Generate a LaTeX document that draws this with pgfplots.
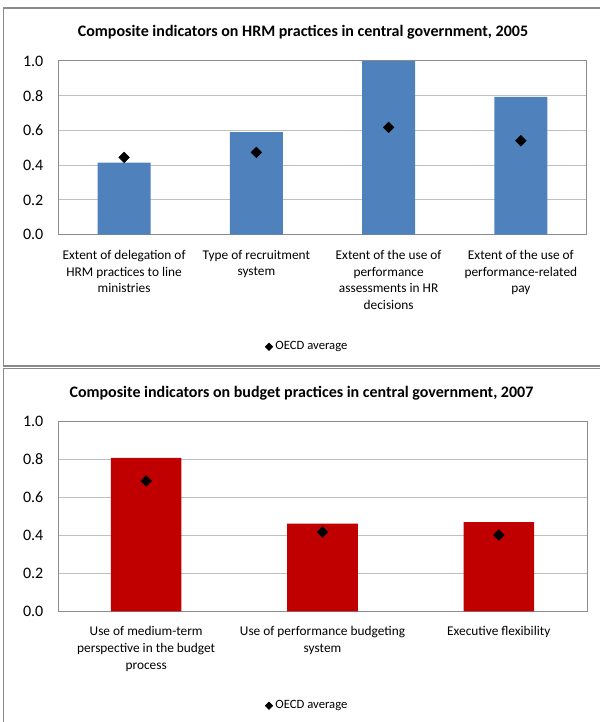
\documentclass[border=0pt]{standalone}
\usepackage{fontspec}
\setmainfont{Carlito}
\usepackage{pgfplots}
\pgfplotsset{compat=1.18}

\definecolor{hrmblue}{HTML}{4F81BD}
\definecolor{budgetred}{HTML}{C00000}
\definecolor{gridgrey}{HTML}{BFBFBF}
\definecolor{framegrey}{HTML}{8C8C8C}
\definecolor{boxgrey}{HTML}{8A8A8A}

\pgfplotsset{
  panel/.style={
    scale only axis,
    width=396.75pt,
    ymin=0, ymax=1,
    ytick={0,0.2,0.4,0.6,0.8,1.0},
    yticklabel style={/pgf/number format/.cd,fixed,fixed zerofill,precision=1,/tikz/.cd,
      font=\fontsize{12}{14}\selectfont, xshift=-7.5pt},
    /pgf/number format/assume math mode=true,
    ymajorgrids=true,
    grid style={gridgrey, line width=0.75pt},
    axis line style={framegrey, line width=0.75pt},
    major tick length=0pt,
    xtick=data,
    xticklabel style={font=\fontsize{10}{12.5}\selectfont, align=center, anchor=north, yshift=-8pt},
    legend style={draw=none, fill=none, font=\fontsize{9.5}{11}\selectfont,
      legend cell align=left, inner sep=0pt},
    legend image code/.code={\draw[black, fill=black] plot[mark=square*, mark size=2pt, mark options={rotate=45}] coordinates {(0pt,0pt)};},
  },
  bars/.style={ybar, bar width=0.4, bar shift=0pt, draw=none, forget plot},
  oecd/.style={only marks, mark=square*, mark size=2.8pt, mark options={rotate=45, fill=black, draw=black}, black},
}

\begin{document}
\begin{tikzpicture}
% 1 px of the reference = 0.75pt, y runs downwards as negative
\useasboundingbox (0pt,0pt) rectangle (450pt,-541.5pt);
% panel frames
\draw[boxgrey, line width=0.9pt] (460pt,-6pt) -- (2.6pt,-6pt) -- (2.6pt,-274.5pt) -- (460pt,-274.5pt);
\draw[boxgrey, line width=0.9pt] (460pt,-276.4pt) -- (2.6pt,-276.4pt) -- (2.6pt,-550pt);

\node[font=\bfseries\fontsize{12}{14}\selectfont] at (227.25pt,-24.2pt)
  {Composite indicators on HRM practices in central government, 2005};

\begin{axis}[panel,
  at={(43.5pt,-176.03pt)}, anchor=south west,
  height=130.3pt,
  xmin=-0.5, xmax=3.5,
  xticklabels={{Extent of delegation of\\HRM practices to line\\ministries},
               {Type of recruitment\\system},
               {Extent of the use of\\performance\\assessments in HR\\decisions},
               {Extent of the use of\\performance-related\\pay}},
  legend style={at={(0.472,-0.645)}, anchor=center},
]
\addplot[bars, fill=hrmblue] coordinates {(0,0.415) (1,0.591) (2,1.0) (3,0.793)};
\addplot[oecd] coordinates {(0,0.445) (1,0.474) (2,0.618) (3,0.541)};
\addlegendentry{OECD average}
\end{axis}

\node[font=\bfseries\fontsize{12}{14}\selectfont] at (226.1pt,-295pt)
  {Composite indicators on budget practices in central government, 2007};

\begin{axis}[panel,
  at={(43.5pt,-458.48pt)}, anchor=south west,
  height=142.7pt,
  xmin=-0.5, xmax=2.5,
  xticklabels={{Use of medium-term\\perspective in the budget\\process},
               {Use of performance budgeting\\system},
               {Executive flexibility}},
  legend style={at={(0.472,-0.496)}, anchor=center},
]
\addplot[bars, fill=budgetred] coordinates {(0,0.807) (1,0.461) (2,0.469)};
\addplot[oecd] coordinates {(0,0.685) (1,0.417) (2,0.401)};
\addlegendentry{OECD average}
\end{axis}
\end{tikzpicture}
\end{document}
